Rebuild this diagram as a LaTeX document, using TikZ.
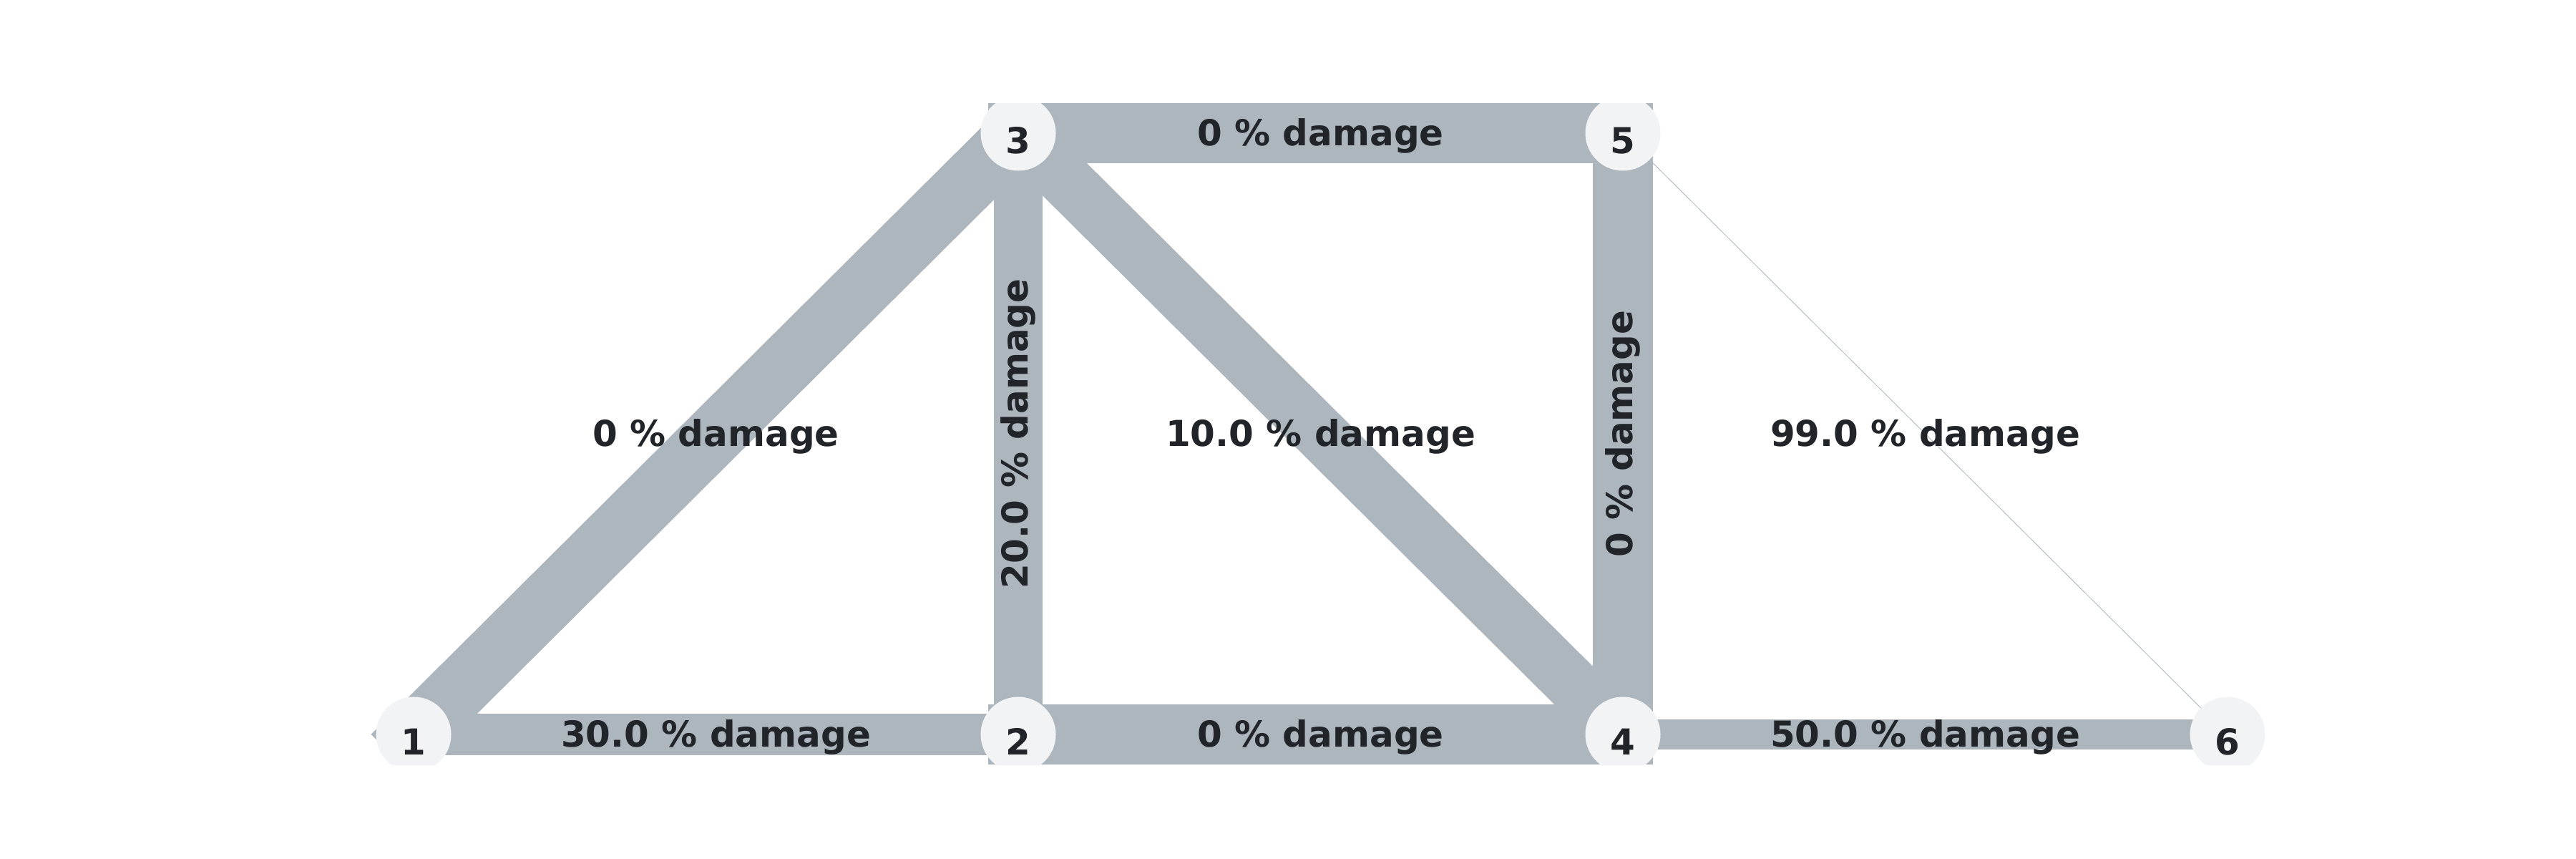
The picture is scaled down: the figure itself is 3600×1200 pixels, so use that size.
\documentclass[tikz,border=0pt]{standalone}
\usepackage{fontspec}
\setmainfont{DejaVu Sans}
\definecolor{bar}{HTML}{ADB5BD}
\definecolor{vfill}{HTML}{F1F3F5}
\definecolor{ink}{HTML}{212529}
\pgfdeclarelayer{bg}
\pgfsetlayers{bg,main}
\begin{document}
\begin{tikzpicture}[x=0.01cm,y=-0.01cm,
  font=\fontsize{14.2}{17}\selectfont\bfseries,
  vert/.style={circle, fill=vfill, minimum size=1.05cm, inner sep=0pt, text=ink, text height=16pt, text depth=0pt},
  member/.style={draw=bar, line cap=rect},
  dmg/.style={text=ink, inner sep=0pt, yshift=-1pt},
  vdmg/.style={text=ink, inner sep=0pt, rotate=90}]
\useasboundingbox (0,0) rectangle (3600,1200);
\begin{scope}
\clip (0,144) rectangle (3600,1068);
\node[vert] (n1) at (578,1026) {1};
\node[vert] (n2) at (1423,1026) {2};
\node[vert] (n3) at (1423,186) {3};
\node[vert] (n4) at (2268,1026) {4};
\node[vert] (n5) at (2268,186) {5};
\node[vert] (n6) at (3113,1026) {6};
\end{scope}
\begin{pgfonlayer}{bg}
\begin{scope}
\clip (0,144) rectangle (3600,1068);
\draw[member, line width=0.588cm] (n1.center) -- (n2.center);
\draw[member, line width=0.84cm] (n1.center) -- (n3.center);
\draw[member, line width=0.672cm] (n2.center) -- (n3.center);
\draw[member, line width=0.84cm] (n2.center) -- (n4.center);
\draw[member, line width=0.756cm] (n3.center) -- (n4.center);
\draw[member, line width=0.84cm] (n3.center) -- (n5.center);
\draw[member, line width=0.84cm] (n4.center) -- (n5.center);
\draw[member, line width=0.42cm] (n4.center) -- (n6.center);
\draw[member, line width=0.0084cm] (n5.center) -- (n6.center);
\end{scope}
\path (n1.center) -- node[dmg] {30.0 \% damage} (n2.center);
\path (n1.center) -- node[dmg] {0 \% damage} (n3.center);
\path (n2.center) -- node[vdmg] {20.0 \% damage} (n3.center);
\path (n2.center) -- node[dmg] {0 \% damage} (n4.center);
\path (n3.center) -- node[dmg] {10.0 \% damage} (n4.center);
\path (n3.center) -- node[dmg] {0 \% damage} (n5.center);
\path (n4.center) -- node[vdmg] {0 \% damage} (n5.center);
\path (n4.center) -- node[dmg] {50.0 \% damage} (n6.center);
\path (n5.center) -- node[dmg] {99.0 \% damage} (n6.center);
\end{pgfonlayer}
\end{tikzpicture}
\end{document}
